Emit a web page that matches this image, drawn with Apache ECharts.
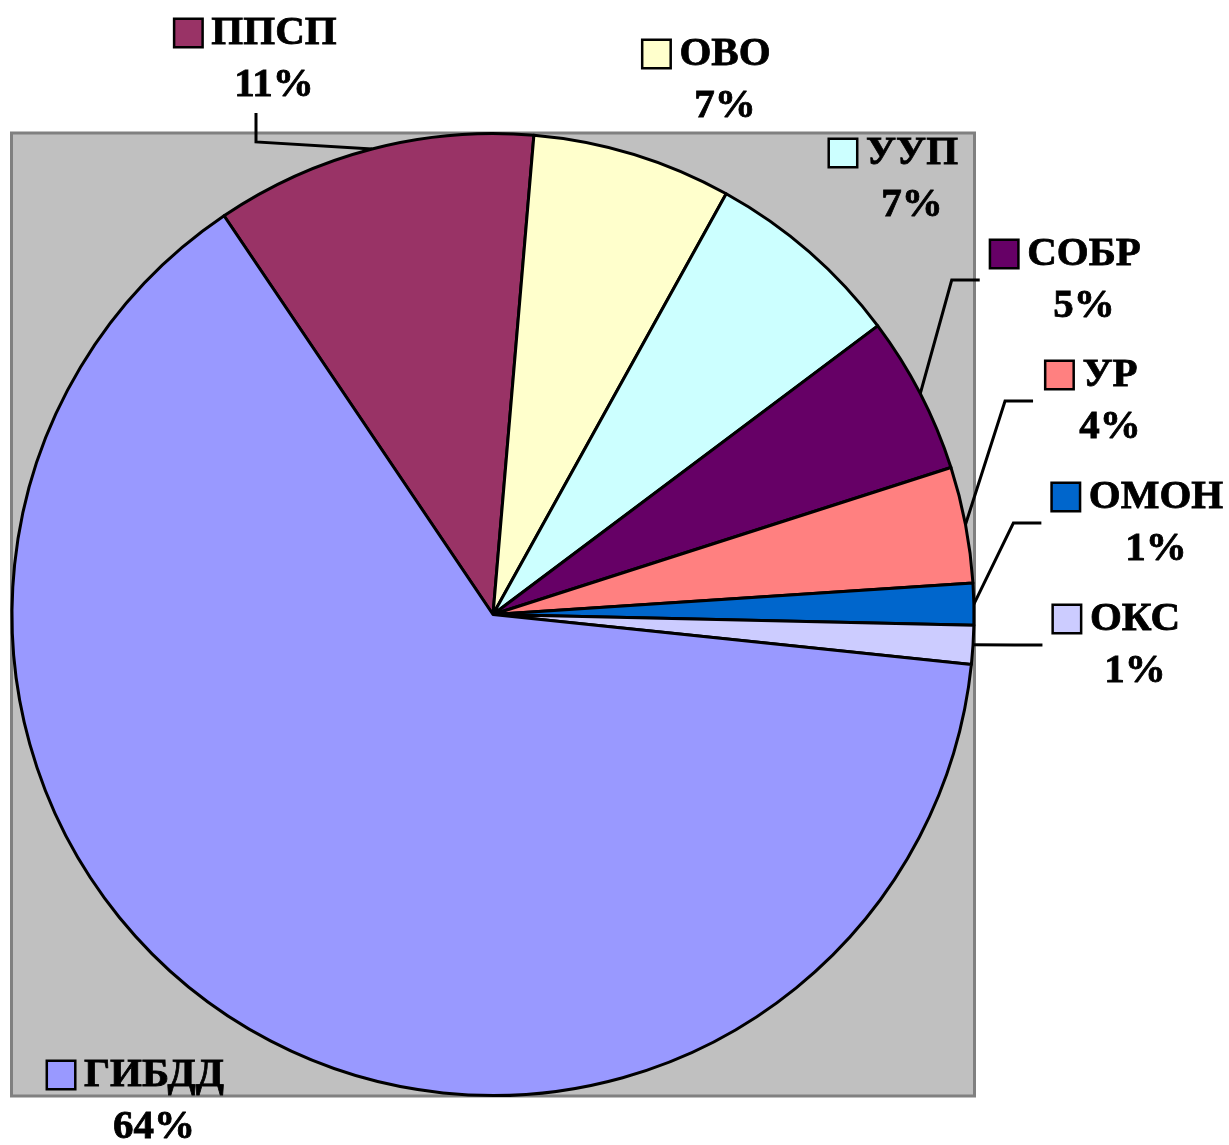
<!DOCTYPE html>
<html>
<head>
<meta charset="utf-8">
<title>Структура</title>
<script src="https://cdn.jsdelivr.net/npm/echarts@6/dist/echarts.min.js"></script>
<style>
  html, body { margin: 0; padding: 0; background: #fff; }
  #main { width: 1229px; height: 1145px; }
</style>
</head>
<body>
<div id="main"></div>
<script>
// подразделения и доли (%), порядок по часовой стрелке
var names = ['ППСП', 'ОВО', 'УУП', 'СОБР', 'УР', 'ОМОН', 'ОКС', 'ГИБДД'];
var values = [10.8, 6.7, 6.7, 5.3, 3.9, 1.4, 1.3, 63.9];
var colors = ['#993366', '#FFFFCC', '#CCFFFF', '#660066', '#FF8080', '#0066CC', '#CCCCFF', '#9999FF'];
// у каких подписей есть выноска
var withLine = [true, false, false, true, true, true, true, false];

// центр блока подписи (x, y), как стоит в оригинале
var labelPos = {
  'ППСП': [256, 59],
  'ОВО': [707, 80],
  'УУП': [894, 179],
  'СОБР': [1066, 280],
  'УР': [1092, 401],
  'ОМОН': [1138, 523],
  'ОКС': [1117, 645],
  'ГИБДД': [136, 1101]
};

var font = '"Liberation Serif", "Times New Roman", serif';

var txt = {
  fontSize: 41, fontWeight: 'bold', fontFamily: font, color: '#000',
  textBorderColor: '#000', textBorderWidth: 0.8,
  lineHeight: 52, align: 'center'
};
var rich = {
  gap: { width: 10 },
  sp: { width: 36 },
  nm: txt,
  pc: txt
};
for (var i = 0; i < colors.length; i++) {
  rich['b' + i] = {
    width: 26, height: 26,
    backgroundColor: colors[i],
    borderColor: '#000',
    borderWidth: 2.5,
    align: 'center'
  };
}

var pieData = names.map(function (n, i) {
  return {
    name: n,
    value: values[i],
    itemStyle: { color: colors[i] },
    labelLine: { show: withLine[i] }
  };
});

var chart = echarts.init(document.getElementById('main'));
chart.setOption({
  animation: false,
  backgroundColor: '#fff',
  graphic: [{
    type: 'rect',
    z: 0,
    shape: { x: 11.5, y: 133, width: 963, height: 963 },
    style: { fill: '#C0C0C0', stroke: '#808080', lineWidth: 3 }
  }],
  series: [{
    type: 'pie',
    center: [493, 614.5],
    radius: 481,
    startAngle: 124,
    clockwise: true,
    avoidLabelOverlap: false,
    itemStyle: { borderColor: '#000', borderWidth: 3 },
    emphasis: { disabled: true },
    label: {
      show: true,
      position: 'outside',
      align: 'center',
      formatter: function (p) {
        return '{b' + p.dataIndex + '|}{gap|}{nm|' + p.name + '}\n{sp|}{pc|' + Math.round(p.percent) + '%}';
      },
      rich: rich
    },
    labelLine: {
      smooth: false,
      lineStyle: { color: '#000', width: 3 }
    },
    labelLayout: function (p) {
      var name = names[p.dataIndex];
      var pos = labelPos[name];
      var w = p.labelRect.width, h = p.labelRect.height;
      var res = { x: pos[0], y: pos[1], align: 'center', verticalAlign: 'middle' };
      if (withLine[p.dataIndex] && p.labelLinePoints) {
        var edge = p.labelLinePoints[0];
        if (name === 'ППСП') {
          var y0 = pos[1] + h / 2 + 7;
          res.labelLinePoints = [edge, [pos[0], y0 + 29], [pos[0], y0]];
        } else {
          var x0 = pos[0] - w / 2 - 10;
          res.labelLinePoints = [edge, [x0 - 28, pos[1]], [x0, pos[1]]];
        }
      }
      return res;
    },
    data: pieData
  }]
});
</script>
</body>
</html>
